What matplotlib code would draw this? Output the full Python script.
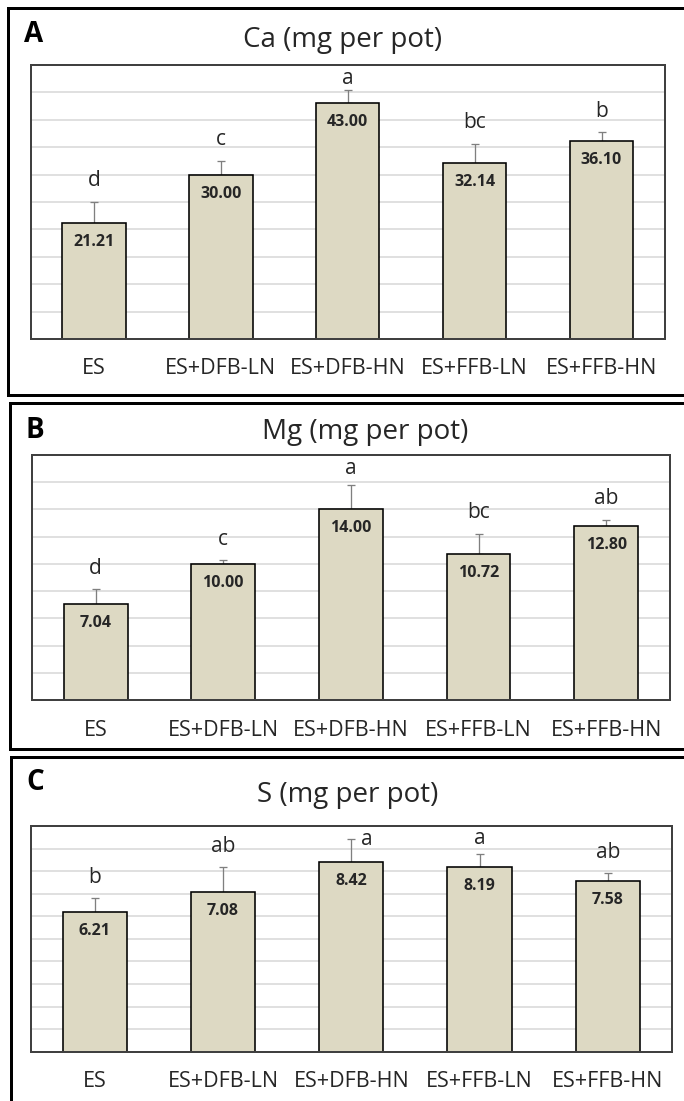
import matplotlib
matplotlib.use("Agg")
import matplotlib.pyplot as plt
from matplotlib.lines import Line2D
import numpy as np

# ---- data ----
treatments = ["ES", "ES+DFB-LN", "ES+DFB-HN", "ES+FFB-LN", "ES+FFB-HN"]

ca_mean = [21.21, 30.00, 43.00, 32.14, 36.10]
ca_err = [3.8, 2.5, 2.4, 3.5, 1.6]
ca_letters = ["d", "c", "a", "bc", "b"]

mg_mean = [7.04, 10.00, 14.00, 10.72, 12.80]
mg_err = [1.1, 0.25, 1.8, 1.5, 0.45]
mg_letters = ["d", "c", "a", "bc", "ab"]

s_mean = [6.21, 7.08, 8.42, 8.19, 7.58]
s_err = [0.59, 1.1, 1.0, 0.56, 0.32]
s_letters = ["b", "ab", "a", "a", "ab"]

# ---- figure geometry (pixels at 100 dpi) ----
W, H = 684, 1101
DPI = 100
PT = 72.0 / DPI  # points per pixel

plt.rcParams["font.family"] = ["Open Sans", "DejaVu Sans"]

fig = plt.figure(figsize=(W / DPI, H / DPI), dpi=DPI)
fig.patch.set_facecolor("white")


def rect(l, t, r, b):
    return [l / W, 1 - b / H, (r - l) / W, (b - t) / H]


def fig_line(x0, y0, x1, y1, lw=3.0):
    fig.add_artist(Line2D([x0 / W, x1 / W], [1 - y0 / H, 1 - y1 / H],
                          color="black", lw=lw * PT,
                          solid_capstyle="projecting",
                          transform=fig.transFigure))


BAR_COLOR = "#DDD9C3"
GRID_COLOR = "#D9D9D9"
FRAME_COLOR = "#404040"
TEXT_COLOR = "#262626"


def panel(box, tag, title, title_xy, tag_xy, means, errs, letters, ymax, step):
    l, t, r, b = box
    ax = fig.add_axes(rect(l, t, r, b))
    x = np.arange(len(treatments))
    ax.set_xlim(-0.5, len(treatments) - 0.5)
    ax.set_ylim(0, ymax)
    for y in np.arange(step, ymax, step):
        ax.axhline(y, color=GRID_COLOR, lw=1.6 * PT, zorder=0)
    ax.bar(x, means, width=0.5, color=BAR_COLOR, edgecolor="black",
           linewidth=1.6 * PT, zorder=2)
    ax.errorbar(x, means, yerr=[np.zeros(len(errs)), errs], fmt="none",
                ecolor="#7F7F7F", elinewidth=1.3 * PT, capsize=3.0,
                capthick=1.3 * PT, zorder=1.5)
    for s in ax.spines.values():
        s.set_color(FRAME_COLOR)
        s.set_linewidth(2.0 * PT)
    ax.set_xticks([])
    ax.set_yticks([])

    px_per_unit = (b - t) / ymax
    for i, (m, e, lab) in enumerate(zip(means, errs, letters)):
        # value label inside the top of the bar
        ax.annotate(f"{m:.2f}", xy=(i, m), xytext=(0, -19 * PT),
                    textcoords="offset points", ha="center", va="center",
                    fontsize=11.5, fontweight="bold", color=TEXT_COLOR,
                    zorder=3)
        # significance letter above the error bar
        top_px = (m + e) * px_per_unit          # pixels above baseline
        room = (b - t) - top_px                 # pixels to the frame
        dy = min(21, room - 13)
        dx = 0
        if dy < 8:
            dy, dx = 0, 16
        ax.annotate(lab, xy=(i, m + e), xytext=(dx * PT, dy * PT),
                    textcoords="offset points", ha="center", va="center",
                    fontsize=15, color=TEXT_COLOR, zorder=3)
        # category label under the axis
        ax.annotate(treatments[i], xy=(i, 0), xytext=(0, -30 * PT),
                    textcoords="offset points", ha="center", va="center",
                    fontsize=15.5, color=TEXT_COLOR, annotation_clip=False)

    fig.text(title_xy[0] / W, 1 - title_xy[1] / H, title, ha="center",
             va="center", fontsize=20, color=TEXT_COLOR)
    fig.text(tag_xy[0] / W, 1 - tag_xy[1] / H, tag, ha="center",
             va="center", fontsize=20, fontweight="bold", color="black")
    return ax


panel((30.5, 65, 665, 339), "A", "Ca (mg per pot)", (343, 40), (34, 34),
      ca_mean, ca_err, ca_letters, 50, 5)
panel((31.8, 455, 670, 700), "B", "Mg (mg per pot)", (365, 432), (35, 430),
      mg_mean, mg_err, mg_letters, 18, 2)
panel((30.5, 826, 672, 1051.7), "C", "S (mg per pot)", (348, 795), (35, 783),
      s_mean, s_err, s_letters, 10, 1)

# panel frames (open on the right edge)
fig_line(8, 8, W + 5, 8)
fig_line(8, 8, 8, 395)
fig_line(8, 395, W + 5, 395)

fig_line(10, 403, W + 5, 403)
fig_line(10, 403, 10, 749)
fig_line(10, 749, W + 5, 749)

fig_line(11, 757, W + 5, 757)
fig_line(11, 757, 11, H + 5)

fig.savefig("out.png", dpi=DPI, facecolor="white")
